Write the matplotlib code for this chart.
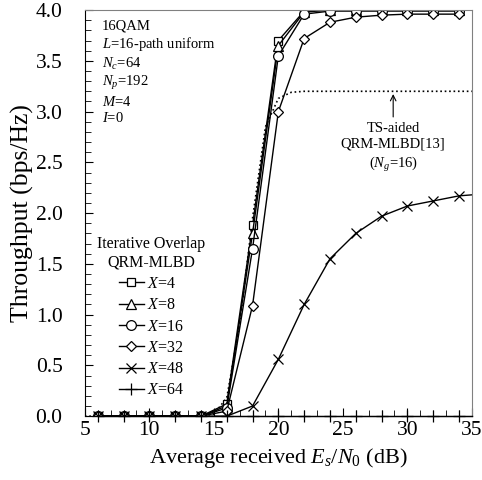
import matplotlib
matplotlib.use("Agg")
import matplotlib.pyplot as plt
from matplotlib.ticker import MultipleLocator

plt.rcParams['font.family'] = ['Liberation Serif', 'DejaVu Serif']
plt.rcParams['mathtext.fontset'] = 'custom'
plt.rcParams['mathtext.rm'] = 'Liberation Serif'
plt.rcParams['mathtext.it'] = 'Liberation Serif:italic'

# SNR points (dB)
snr = [6, 8, 10, 12, 14, 16, 18, 20, 22, 24, 26, 28, 30, 32, 34]
x4 = [0, 0, 0, 0, 0, 0.12, 1.88, 3.70, 3.99, 4.0, 4.0, 4.0, 4.0, 4.0, 4.0]
x8 = [0, 0, 0, 0, 0, 0.10, 1.80, 3.65, 3.98, 4.0, 4.0, 4.0, 4.0, 4.0, 4.0]
x16 = [0, 0, 0, 0, 0, 0.08, 1.65, 3.55, 3.96, 3.99, 3.99, 3.99, 3.99, 3.99, 3.99]
x32 = [0, 0, 0, 0, 0, 0.05, 1.09, 3.00, 3.72, 3.88, 3.93, 3.95, 3.96, 3.96, 3.96]
x48 = [0, 0, 0, 0, 0, 0.0, 0.10, 0.56, 1.10, 1.55, 1.80, 1.97, 2.07, 2.12, 2.17]
x64 = [0] * 15

# TS-aided reference (no markers)
ts_snr = [5, 14, 15, 16, 17, 18, 19, 20, 21, 22, 25, 30, 35]
ts_thr = [0, 0, 0.02, 0.18, 0.9, 1.95, 2.85, 3.13, 3.19, 3.2, 3.2, 3.2, 3.2]

fig = plt.figure(figsize=(4.82, 4.8), dpi=100)
ax = fig.add_axes([0.176, 0.133, 0.803, 0.846])

ax.plot(ts_snr, ts_thr, 'k:', lw=1.2)
kw = dict(color='k', lw=1.0, mfc='white', mec='k', mew=0.9)
ax.plot(snr, x4, marker='s', ms=6, label='$X$=4', **kw)
ax.plot(snr, x8, marker='^', ms=6.5, label='$X$=8', **kw)
ax.plot(snr, x16, marker='o', ms=7, label='$X$=16', **kw)
ax.plot(snr, x32, marker='D', ms=5.5, label='$X$=32', **kw)
ax.plot(snr + [35], x48 + [2.18], marker='x', ms=7, markevery=list(range(15)), label='$X$=48', **kw)
ax.plot(snr + [35], x64 + [0], marker='+', ms=9, markevery=list(range(15)),
        label='$X$=64', clip_on=False, zorder=5, **kw)

ax.set_xlim(5, 35)
ax.set_ylim(0, 4.0)
ax.xaxis.set_major_locator(MultipleLocator(5))
ax.xaxis.set_minor_locator(MultipleLocator(1))
ax.yaxis.set_major_locator(MultipleLocator(0.5))
ax.yaxis.set_minor_locator(MultipleLocator(0.1))
ax.yaxis.set_major_formatter(plt.FormatStrFormatter('%.1f'))
ax.tick_params(which='both', direction='in', top=False, right=False, labelsize=15.5)
ax.tick_params(which='major', length=6)
ax.tick_params(which='minor', length=4)
ax.tick_params(axis='y', which='major', pad=16)
for s in ['top', 'right']:
    ax.spines[s].set_color('gray')

ax.set_xlabel('Average received $E_s/N_0$ (dB)', fontsize=16, labelpad=4)
ax.set_ylabel('Throughput (bps/Hz)', fontsize=18.5, labelpad=1)

ax.text(6.3, 3.91, '16QAM\n$L$=16-path uniform\n$N_c$=64\n$N_p$=192\n$M$=4\n$I$=0',
        fontsize=10.5, va='top', ha='left', linespacing=1.22)

ax.annotate('', xy=(28.9, 3.2), xytext=(28.9, 2.92),
            arrowprops=dict(arrowstyle='->', color='k', lw=0.8))
ax.text(28.9, 2.9, 'TS-aided\nQRM-MLBD[13]\n($N_g$=16)', fontsize=10.5,
        ha='center', va='top', linespacing=1.3)

leg = ax.legend(loc='lower left', bbox_to_anchor=(0.016, 0.028), frameon=False,
                title='Iterative Overlap\nQRM-MLBD', fontsize=11.5, title_fontsize=11.5,
                handlelength=1.6, handletextpad=0.2, labelspacing=0.33, borderaxespad=0)
leg._legend_box.align = 'center'
leg.get_title().set_multialignment('center')
leg.get_title().set_linespacing(1.2)

fig.savefig('out.png', dpi=100)
